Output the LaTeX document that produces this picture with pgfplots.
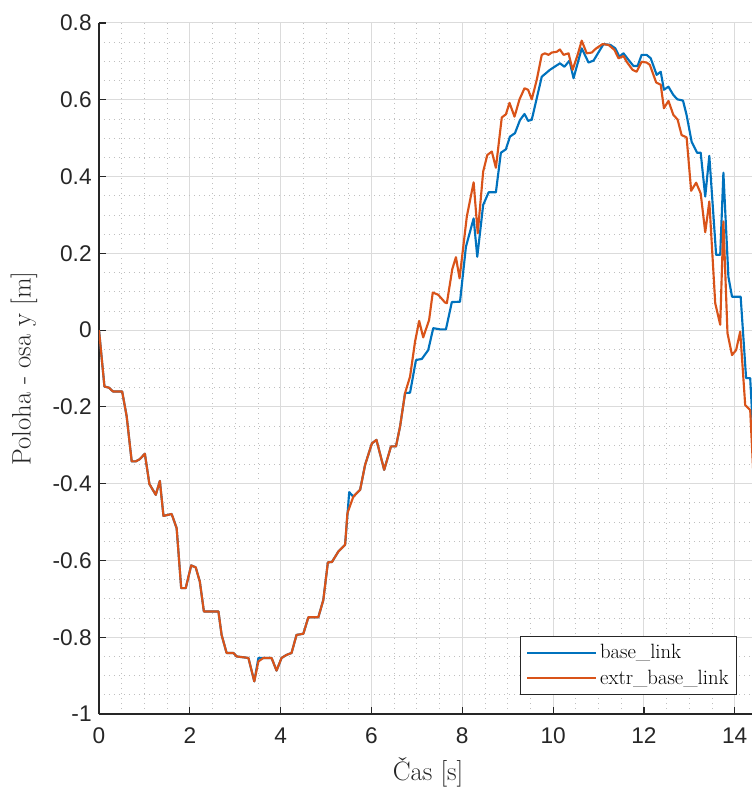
\documentclass[border=0pt]{standalone}
\usepackage{fontspec}
\usepackage{pgfplots}
\pgfplotsset{compat=1.18}
\newfontfamily\arial{Liberation Sans}
\definecolor{mblue}{rgb}{0,0.447,0.741}
\definecolor{morange}{rgb}{0.851,0.325,0.098}
\definecolor{axgray}{rgb}{0.15,0.15,0.15}
\begin{document}
\begin{tikzpicture}
\useasboundingbox (-74.25pt,-55.5pt) rectangle (489.75pt,535.5pt);
\begin{axis}[name=ax, scale only axis, width=489.75pt, height=518.25pt,
 xmin=0, xmax=14.38, ymin=-1, ymax=0.8,
 axis x line*=bottom, axis y line*=left,
 axis line style={-, axgray, line width=0.9pt},
 every outer x axis line/.append style={-},
 every outer y axis line/.append style={-},
 xtick={0,2,4,6,8,10,12,14}, xticklabels={0,2,4,6,8,10,12,14},
 ytick={-1,-0.8,-0.6,-0.4,-0.2,0,0.2,0.4,0.6,0.8},
 yticklabels={-1,-0.8,-0.6,-0.4,-0.2,0,0.2,0.4,0.6,0.8},
 minor x tick num=3, minor y tick num=3,
 tick align=inside, major tick length=5.25pt, minor tick length=0pt,
 tick style={axgray, line width=0.9pt},
 grid=both,
 major grid style={gray!28, line width=0.75pt},
 minor grid style={gray!50, line width=0.6pt, dash pattern=on 0.75pt off 3pt},
 ticklabel style={font=\arial\fontsize{17}{20}\selectfont, text=axgray},
 xticklabel style={yshift=-7pt},
 yticklabel style={xshift=-2pt},
 /pgf/number format/assume math mode=true,
 xlabel={Čas [s]}, ylabel={Poloha - osa y [m]},
 label style={font=\fontsize{20}{24}\selectfont, text=axgray},
 xlabel style={at={(axis description cs:0.504,-0.0839)}, anchor=center},
 ylabel style={at={(axis description cs:-0.115,0.5)}, anchor=center, rotate=0},
 legend style={at={(axis description cs:0.977,0.0275)}, anchor=south east,
   font=\fontsize{15.5}{18}\selectfont, draw=axgray, line width=0.6pt, fill=white,
   inner xsep=4pt, inner ysep=4pt, row sep=3pt},
 legend cell align=left,
 legend image code/.code={\draw[#1] (0pt,0pt) -- (52pt,0pt);},
 every axis plot/.append style={line width=1.6pt, line join=round},
]
\addplot[mblue] coordinates {
(0,0) (0.12,-0.147) (0.22,-0.15) (0.31,-0.16) (0.51,-0.16) (0.61,-0.225)
(0.72,-0.342) (0.81,-0.342) (0.90,-0.336) (1.01,-0.322) (1.11,-0.401)
(1.25,-0.429) (1.34,-0.393) (1.42,-0.484) (1.60,-0.479) (1.71,-0.516)
(1.81,-0.672) (1.91,-0.672) (2.03,-0.613) (2.13,-0.618) (2.22,-0.655)
(2.31,-0.733) (2.63,-0.733) (2.70,-0.794) (2.81,-0.841) (2.96,-0.841)
(3.03,-0.85) (3.29,-0.854) (3.42,-0.915) (3.51,-0.854) (3.62,-0.854)
(3.80,-0.854) (3.91,-0.887) (4.02,-0.854) (4.13,-0.846) (4.24,-0.841)
(4.35,-0.794) (4.50,-0.791) (4.61,-0.748) (4.83,-0.748) (4.94,-0.703)
(5.04,-0.605) (5.13,-0.604) (5.27,-0.577) (5.42,-0.559) (5.51,-0.422)
(5.60,-0.434) (5.75,-0.416) (5.86,-0.351) (6.01,-0.295) (6.11,-0.286)
(6.28,-0.364) (6.43,-0.303) (6.54,-0.303) (6.63,-0.251) (6.74,-0.164)
(6.85,-0.163) (6.98,-0.078) (7.11,-0.075) (7.25,-0.052) (7.36,0.005)
(7.51,0.002) (7.64,0.002) (7.77,0.073) (7.95,0.074) (8.08,0.217)
(8.25,0.291) (8.33,0.191) (8.46,0.326) (8.58,0.359) (8.74,0.359)
(8.85,0.462) (8.96,0.471) (9.05,0.504) (9.16,0.513) (9.27,0.547)
(9.37,0.563) (9.45,0.545) (9.53,0.548) (9.75,0.66) (9.93,0.678)
(10.15,0.695) (10.25,0.686) (10.36,0.702) (10.45,0.656) (10.63,0.734)
(10.78,0.697) (10.89,0.702) (11.11,0.745) (11.26,0.743) (11.37,0.734)
(11.46,0.712) (11.55,0.721) (11.66,0.704) (11.77,0.688) (11.86,0.688)
(11.95,0.717) (12.06,0.717) (12.15,0.708) (12.28,0.665) (12.37,0.673)
(12.44,0.626) (12.54,0.634) (12.65,0.612) (12.74,0.601) (12.86,0.598)
(12.94,0.560) (13.05,0.491) (13.17,0.462) (13.25,0.462) (13.35,0.348)
(13.44,0.454) (13.59,0.196) (13.68,0.196) (13.75,0.410) (13.86,0.139)
(13.94,0.087) (14.13,0.087) (14.25,-0.125) (14.34,-0.125) (14.42,-0.30)
};
\addlegendentry{base\_link}
\addplot[morange] coordinates {
(0,0) (0.12,-0.147) (0.22,-0.15) (0.31,-0.16) (0.51,-0.16) (0.61,-0.225)
(0.72,-0.342) (0.81,-0.342) (0.90,-0.336) (1.01,-0.322) (1.11,-0.401)
(1.25,-0.429) (1.34,-0.393) (1.42,-0.484) (1.60,-0.479) (1.71,-0.516)
(1.81,-0.672) (1.91,-0.672) (2.03,-0.613) (2.13,-0.618) (2.22,-0.655)
(2.31,-0.733) (2.63,-0.733) (2.70,-0.794) (2.81,-0.841) (2.96,-0.841)
(3.03,-0.85) (3.29,-0.854) (3.42,-0.915) (3.51,-0.863) (3.62,-0.854)
(3.80,-0.854) (3.91,-0.887) (4.02,-0.854) (4.13,-0.846) (4.24,-0.841)
(4.35,-0.794) (4.50,-0.791) (4.61,-0.748) (4.83,-0.748) (4.94,-0.703)
(5.04,-0.605) (5.13,-0.604) (5.27,-0.577) (5.42,-0.559) (5.47,-0.477)
(5.60,-0.434) (5.75,-0.416) (5.86,-0.351) (6.01,-0.295) (6.11,-0.286)
(6.28,-0.364) (6.43,-0.303) (6.54,-0.303) (6.63,-0.251) (6.74,-0.164)
(6.85,-0.121) (6.96,-0.03) (7.05,0.024) (7.14,-0.019) (7.27,0.027)
(7.35,0.098) (7.47,0.092) (7.62,0.072) (7.66,0.07) (7.78,0.159)
(7.86,0.19) (7.94,0.135) (8.10,0.296) (8.25,0.385) (8.34,0.252)
(8.46,0.413) (8.55,0.456) (8.65,0.465) (8.74,0.423) (8.87,0.554)
(8.96,0.562) (9.04,0.592) (9.15,0.556) (9.26,0.601) (9.37,0.63)
(9.45,0.626) (9.53,0.601) (9.64,0.652) (9.75,0.717) (9.82,0.721)
(9.90,0.717) (9.97,0.723) (10.08,0.725) (10.15,0.731) (10.23,0.717)
(10.34,0.721) (10.43,0.678) (10.54,0.717) (10.63,0.754) (10.74,0.721)
(10.85,0.723) (10.95,0.734) (11.09,0.745) (11.22,0.743) (11.35,0.730)
(11.44,0.708) (11.55,0.714) (11.62,0.699) (11.75,0.678) (11.84,0.673)
(11.95,0.699) (12.06,0.697) (12.13,0.691) (12.27,0.645) (12.37,0.639)
(12.44,0.578) (12.54,0.597) (12.65,0.560) (12.74,0.549) (12.83,0.508)
(12.94,0.502) (13.04,0.363) (13.15,0.384) (13.25,0.356) (13.35,0.255)
(13.44,0.335) (13.57,0.070) (13.68,0.014) (13.75,0.283) (13.84,-0.008)
(13.94,-0.065) (14.03,-0.052) (14.12,-0.004) (14.23,-0.195) (14.34,-0.208)
(14.42,-0.40)
};
\addlegendentry{extr\_base\_link}
\end{axis}
\end{tikzpicture}
\end{document}
